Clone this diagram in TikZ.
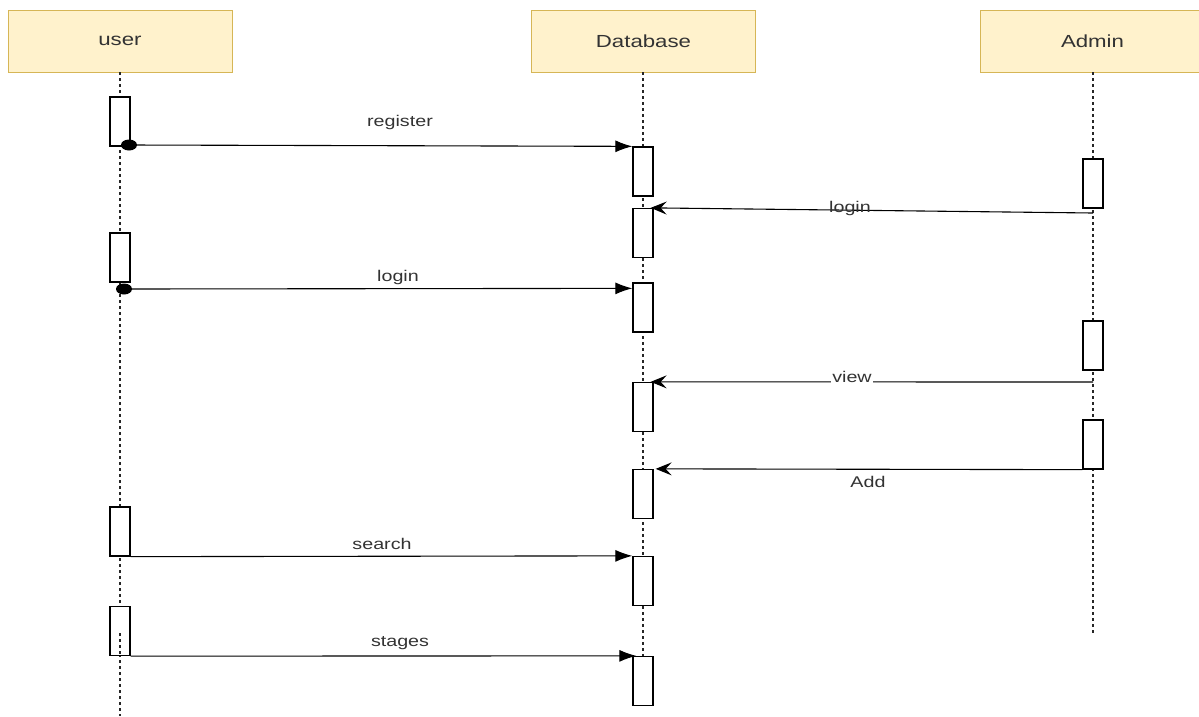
\documentclass[tikz,border=0pt]{standalone}
\usepackage{fontspec}
\setmainfont{Liberation Sans}[FakeStretch=1.27]
\usetikzlibrary{arrows.meta}
\definecolor{hdrfill}{HTML}{FFF2CC}
\definecolor{hdrborder}{HTML}{D6B656}
\definecolor{txt}{HTML}{333333}
\begin{document}
\begin{tikzpicture}[x=1pt,y=-1pt,
 head/.style={draw=hdrborder, fill=hdrfill, line width=1pt, minimum width=224pt, minimum height=62pt, inner sep=0pt, font=\fontsize{17.5}{20}\selectfont, text=txt},
 act/.style={draw=black, fill=white, line width=1.3pt, minimum width=20pt, minimum height=49pt, inner sep=0pt},
 life/.style={line width=1.5pt, dash pattern=on 3pt off 3pt, draw=black!85},
 msg/.style={line width=1.1pt, -{Latex[length=17pt,width=12pt]}},
 rmsg/.style={line width=1.1pt, -{Stealth[length=16pt,width=13pt,inset=6pt]}},
 lbl/.style={font=\fontsize{15.5}{18}\selectfont, text=txt, inner sep=1pt}]
\clip (0,0) rectangle (1199,716);
% headers
\node[head] (user) at (120,41) {user};
\node[head] (db) at (643.5,41) {Database};
\node[head, minimum width=225pt] (admin) at (1092.5,41) {Admin};
% lifelines
\coordinate (userend) at (120,716);
\coordinate (dbend) at (643,706);
\coordinate (adend) at (1093,633);
\draw[life] (120,72) -- (userend);
\draw[life] (643,72) -- (dbend);
\draw[life] (1093,72) -- (adend);
% activations
\node[act] (u1) at (120,121.5) {};
\node[act] (u2) at (120,257.5) {};
\node[act] (u3) at (120,531.5) {};
\node[act] (u4) at (120,631) {};
\node[act] (d1) at (643,171.5) {};
\node[act] (d2) at (643,233) {};
\node[act] (d3) at (643,307.5) {};
\node[act] (d4) at (643,407) {};
\node[act] (d5) at (643,494) {};
\node[act] (d6) at (643,581) {};
\node[act] (d7) at (643,681) {};
\node[act] (a1) at (1093,183.5) {};
\node[act] (a2) at (1093,345.5) {};
\node[act] (a3) at (1093,444.5) {};
\coordinate (u4in) at (120,633);
\draw[life] (u4in) -- (u4.south);
% register
\coordinate (r1) at (129,145);
\draw[msg] (r1) -- (d1.north west);
\fill (r1) ellipse (8pt and 5.5pt);
\node[lbl] (lreg) at (400,122) {register};
% admin login
\coordinate (al) at (1093,213);
\draw[rmsg] (al) -- ([xshift=-3pt]d2.north east);
\node[lbl] (lalog) at (850,208) {login};
% user login
\coordinate (ul) at (124,289);
\draw[msg] (ul) -- ([yshift=-6pt]d3.north west);
\fill (ul) ellipse (8pt and 5.5pt);
\node[lbl] (lulog) at (398,277) {login};
% view
\coordinate (av) at (1093,382);
\draw[rmsg] (av) -- ([xshift=-3pt]d4.north east);
\node[lbl, fill=white] (lview) at (852,377) {view};
% Add
\draw[rmsg] (a3.south west) -- ([xshift=2pt]d5.north east);
\node[lbl] (ladd) at (868,482) {Add};
% search
\draw[msg] (u3.south east) -- (d6.north west);
\node[lbl] (lsearch) at (382,544) {search};
% stages
\draw[msg] (u4.south east) -- ([xshift=4pt]d7.north west);
\node[lbl] (lstages) at (400,643) {stages};
\end{tikzpicture}
\end{document}
